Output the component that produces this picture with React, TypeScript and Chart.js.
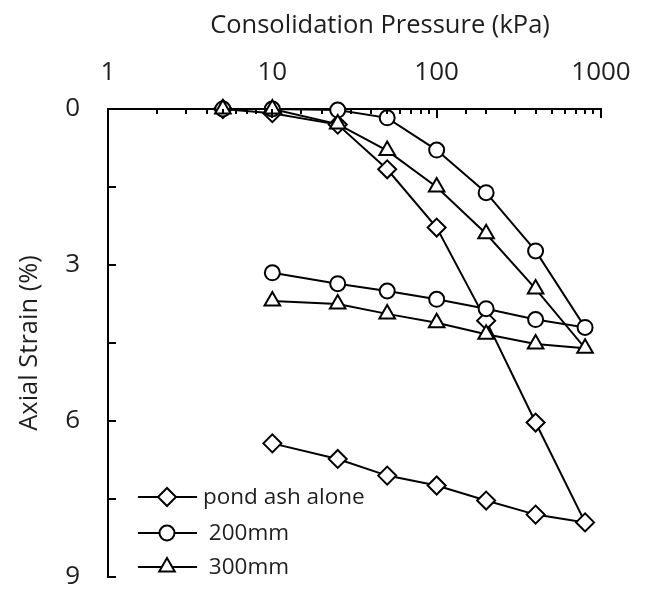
import { useEffect, useRef } from 'react';
import { Chart, registerables } from 'chart.js';
import { drawPoint } from 'chart.js/helpers';

Chart.register(...registerables);

// ---- data ----
const loadPressures = [5, 10, 25, 50, 100, 200, 400, 800];
const unloadPressures = [400, 200, 100, 50, 25, 10];

const pondAshLoad = [0, 0.08, 0.3, 1.16, 2.28, 4.07, 6.03, 7.95];
const pondAshUnload = [7.8, 7.53, 7.24, 7.05, 6.73, 6.43];

const mm200Load = [0, 0, 0.02, 0.17, 0.79, 1.61, 2.73, 4.2];
const mm200Unload = [4.05, 3.84, 3.66, 3.5, 3.36, 3.15];

const mm300Load = [0, 0, 0.29, 0.8, 1.5, 2.4, 3.46, 4.6];
const mm300Unload = [4.52, 4.33, 4.11, 3.94, 3.75, 3.69];

const seriesNames = ['pond ash alone', ' 200mm', ' 300mm'];
const xTickLabels = [1, 10, 100, 1000];
const yTickLabels = [0, 3, 6, 9];

const xTitle = 'Consolidation Pressure (kPa)';
const yTitle = 'Axial Strain (%)';

function buildPoints(load: number[], unload: number[]) {
  const pts = loadPressures.map((p, i) => ({ x: p, y: load[i] }));
  unloadPressures.forEach((p, i) => pts.push({ x: p, y: unload[i] }));
  return pts;
}

const FONT = "'Open Sans', 'DejaVu Sans', sans-serif";
const TEXT = '#1e1e1e';

const insideTicks = {
  id: 'insideTicks',
  afterDraw(chart: any) {
    const { ctx, chartArea, scales } = chart;
    ctx.save();
    ctx.strokeStyle = '#000';
    ctx.lineWidth = 2;
    ctx.beginPath();
    const xs = scales.x;
    for (const t of xs.ticks) {
      const px = Math.round(xs.getPixelForValue(t.value));
      const major = xTickLabels.includes(t.value);
      const len = major ? 9 : 5;
      ctx.moveTo(px, chartArea.top);
      ctx.lineTo(px, chartArea.top + len);
    }
    const ys = scales.y;
    for (const t of ys.ticks) {
      const py = Math.round(ys.getPixelForValue(t.value));
      ctx.moveTo(chartArea.left, py);
      ctx.lineTo(chartArea.left + 8, py);
    }
    ctx.stroke();
    // x axis title (offset to the right as in the reference)
    ctx.fillStyle = TEXT;
    ctx.font = `25.5px ${FONT}`;
    ctx.textAlign = 'center';
    ctx.textBaseline = 'alphabetic';
    ctx.fillText(xTitle, 380, 33);
    ctx.restore();
  },
};

const legendRows = [497, 533, 567];
const legendPlugin = {
  id: 'insideLegend',
  afterDraw(chart: any) {
    const { ctx } = chart;
    ctx.save();
    chart.data.datasets.forEach((ds: any, i: number) => {
      const y = legendRows[i];
      ctx.strokeStyle = '#000';
      ctx.lineWidth = 2;
      ctx.beginPath();
      ctx.moveTo(138, y);
      ctx.lineTo(197, y);
      ctx.stroke();
      ctx.fillStyle = '#fff';
      ctx.strokeStyle = '#000';
      ctx.lineWidth = 2;
      drawPoint(ctx, { pointStyle: ds.pointStyle, radius: ds.pointRadius, rotation: 0, borderWidth: 2 } as any, 167, y);
      ctx.fillStyle = TEXT;
      ctx.font = `22.5px ${FONT}`;
      ctx.textBaseline = 'alphabetic';
      ctx.textAlign = 'left';
      ctx.fillText(seriesNames[i], 203, y + 7);
    });
    ctx.restore();
  },
};

export default function App() {
  const ref = useRef<HTMLCanvasElement | null>(null);
  useEffect(() => {
    if (!ref.current) return;
    const common = {
      borderColor: '#000',
      borderWidth: 2,
      pointBackgroundColor: '#fff',
      pointBorderColor: '#000',
      pointBorderWidth: 2,
      showLine: true,
      fill: false,
      tension: 0,
      clip: false as any,
    };
    const chart = new Chart(ref.current, {
      type: 'scatter',
      data: {
        datasets: [
          { ...common, label: seriesNames[0], data: buildPoints(pondAshLoad, pondAshUnload), pointStyle: 'rectRot', pointRadius: 9, order: 3 },
          { ...common, label: seriesNames[1], data: buildPoints(mm200Load, mm200Unload), pointStyle: 'circle', pointRadius: 7.5, order: 2 },
          { ...common, label: seriesNames[2], data: buildPoints(mm300Load, mm300Unload), pointStyle: 'triangle', pointRadius: 9, order: 1 },
        ],
      },
      options: {
        animation: false,
        responsive: false,
        maintainAspectRatio: false,
        layout: { padding: { left: 0, top: 0, right: 44, bottom: 13 } },
        plugins: { legend: { display: false }, tooltip: { enabled: false } },
        scales: {
          x: {
            type: 'logarithmic',
            position: 'top',
            min: 1,
            max: 1000,
            afterFit: (s: any) => { s.height = 109; s.paddingLeft = 0; s.paddingRight = 0; },
            grid: { display: true, drawOnChartArea: false, drawTicks: false },
            border: { display: true, color: '#000', width: 2 },
            ticks: {
              autoSkip: false,
              maxRotation: 0,
              padding: 21,
              color: TEXT,
              font: { family: FONT, size: 26 },
              callback: (v: any) => (xTickLabels.includes(Number(v)) ? String(v) : ''),
            },
            title: { display: false },
          },
          y: {
            type: 'linear',
            reverse: true,
            min: 0,
            max: 9,
            afterFit: (s: any) => { s.width = 108; s.paddingTop = 0; s.paddingBottom = 0; },
            grid: { display: true, drawOnChartArea: false, drawTicks: false },
            border: { display: true, color: '#000', width: 2 },
            ticks: {
              stepSize: 1.5,
              autoSkip: false,
              padding: 28,
              color: TEXT,
              font: { family: FONT, size: 26 },
              callback: (v: any) => (yTickLabels.includes(Number(v)) ? String(v) : ''),
            },
            title: { display: true, text: yTitle, color: TEXT, font: { family: FONT, size: 25.5 }, padding: { top: 14, bottom: 0 } },
          },
        },
      },
      plugins: [insideTicks, legendPlugin],
    });
    return () => chart.destroy();
  }, []);
  return (
    <div style={{ position: 'fixed', left: 0, top: 0, width: 645, height: 590, background: '#fff' }}>
      <canvas ref={ref} width={645} height={590} style={{ display: 'block' }} />
    </div>
  );
}
